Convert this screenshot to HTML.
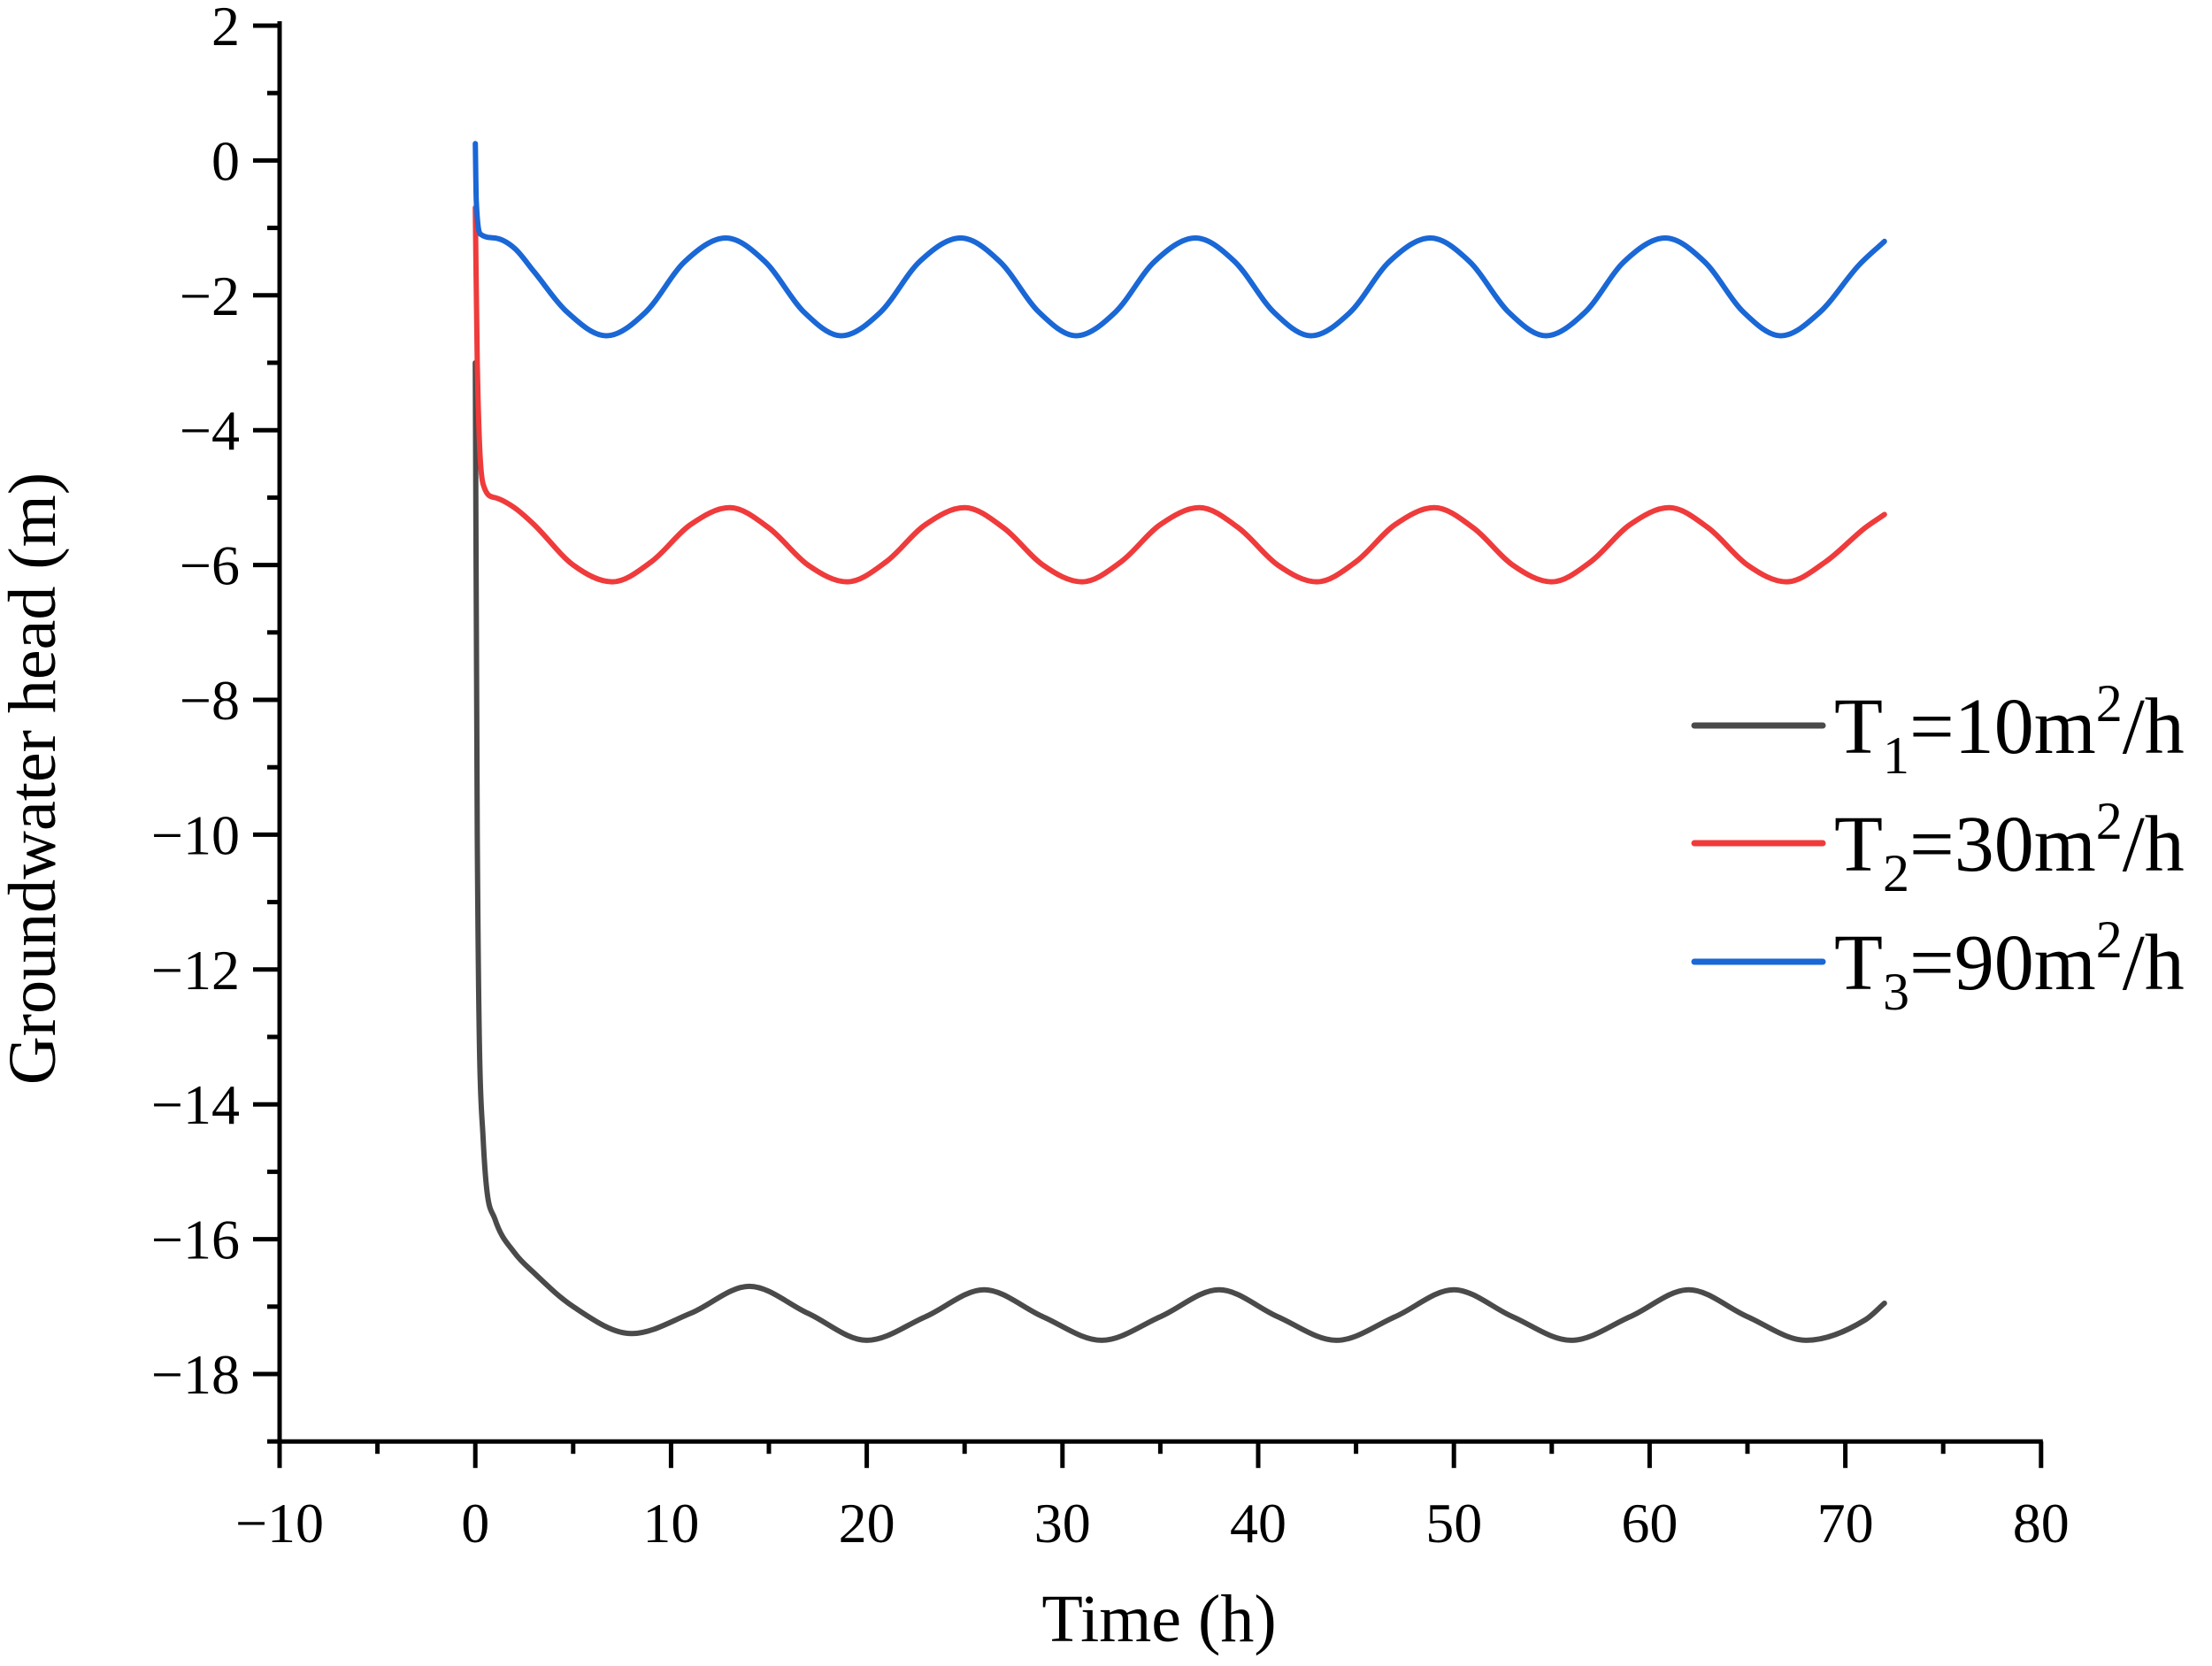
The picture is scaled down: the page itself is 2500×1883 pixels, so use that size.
<!DOCTYPE html>
<html><head><meta charset="utf-8"><style>
html,body{margin:0;padding:0;background:#fff}
svg{display:block}
text{font-family:"Liberation Serif",serif;fill:#000}
</style></head><body>
<svg id="chart" width="2500" height="1883" viewBox="0 0 2500 1883">
<g id="axes"></g>
<g id="series"></g>
<text x="1310" y="1855" font-size="76" text-anchor="middle">Time (h)</text>
<text transform="translate(62,880) rotate(-90)" font-size="76" text-anchor="middle">Groundwater head (m)</text>
<g id="legend"></g>
</svg>
<script>
const xTicks=[-10,0,10,20,30,40,50,60,70,80];
const yTicks=[2,0,-2,-4,-6,-8,-10,-12,-14,-16,-18];
const seriesNames=["T1=10m²/h","T2=30m²/h","T3=90m²/h"];
const blackT=[0,0.1,0.4,1,2,3,5,8,11,14,17,20,23,26,29,32,35,38,41,44,47,50,53,56,59,62,65,68,71,72];
const blackV=[-3,-10,-14.5,-15.7,-16.2,-16.5,-17.0,-17.4,-17.1,-16.7,-17.1,-17.5,-17.15,-16.75,-17.15,-17.5,-17.15,-16.75,-17.15,-17.5,-17.15,-16.75,-17.15,-17.5,-17.15,-16.75,-17.15,-17.5,-17.2,-16.95];
const redT=[0,0.1,0.4,1,2,3,5,7,9,11,13,15,17,19,21,23,25,27,29,31,33,35,37,39,41,43,45,47,49,51,53,55,57,59,61,63,65,67,69,71,72];
const redV=[-0.7,-3,-4.8,-5.0,-5.15,-5.4,-6.0,-6.25,-5.95,-5.4,-5.15,-5.45,-6.0,-6.25,-5.95,-5.4,-5.15,-5.45,-6.0,-6.25,-5.95,-5.4,-5.15,-5.45,-6.0,-6.25,-5.95,-5.4,-5.15,-5.45,-6.0,-6.25,-5.95,-5.4,-5.15,-5.45,-6.0,-6.25,-5.95,-5.45,-5.25];
const blueT=[0,0.05,0.3,1,2,3,4.7,6.7,8.7,10.7,12.8,14.8,16.8,18.7,20.7,22.7,24.8,26.8,28.8,30.7,32.7,34.7,36.8,38.8,40.8,42.7,44.7,46.7,48.8,50.8,52.8,54.7,56.7,58.7,60.8,62.8,64.8,66.7,68.7,70.7,72];
const blueV=[0.25,-0.6,-1.1,-1.15,-1.3,-1.65,-2.25,-2.6,-2.25,-1.5,-1.15,-1.5,-2.25,-2.6,-2.25,-1.5,-1.15,-1.5,-2.25,-2.6,-2.25,-1.5,-1.15,-1.5,-2.25,-2.6,-2.25,-1.5,-1.15,-1.5,-2.25,-2.6,-2.25,-1.5,-1.15,-1.5,-2.25,-2.6,-2.25,-1.55,-1.2];

const NS="http://www.w3.org/2000/svg";
const X0=316,XS=22.12,YTOP=29,YS=76.2;
function sx(v){return X0+(v+10)*XS;}
function sy(v){return YTOP+(2-v)*YS;}
const axes=document.getElementById('axes');
function mk(tag,attrs,parent){const e=document.createElementNS(NS,tag);for(const k in attrs)e.setAttribute(k,attrs[k]);parent.appendChild(e);return e;}
const axisBottom=sy(-19);
let a=mk('line',{x1:X0,y1:YTOP-5,x2:X0,y2:axisBottom+2,stroke:'#000','stroke-width':5},axes);


a=mk('line',{x1:X0-2,y1:axisBottom,x2:sx(80)+2,y2:axisBottom,stroke:'#000','stroke-width':5},axes);


for(let v=-10;v<=80;v+=5){
  const major=(v%10===0);
  const t=mk('line',{x1:sx(v),y1:axisBottom,x2:sx(v),y2:axisBottom+(major?30:14),stroke:'#000','stroke-width':5},axes);
  
  
}
xTicks.forEach(v=>{
  const t=mk('text',{x:sx(v),y:1743,'font-size':64,'text-anchor':'middle'},axes);
  t.textContent=(v<0?'\u2212':'')+Math.abs(v);
  
  
});
for(let v=2;v>=-19;v--){
  const major=(v%2===0);
  const t=mk('line',{x1:X0,y1:sy(v),x2:X0-(major?30:14),y2:sy(v),stroke:'#000','stroke-width':5},axes);
  
  
}
yTicks.forEach(v=>{
  const t=mk('text',{x:X0-45,y:sy(v)+22,'font-size':64,'text-anchor':'end'},axes);
  t.textContent=(v<0?'\u2212':'')+Math.abs(v);
  
  
});
function mono(xs,ys){
  const n=xs.length,d=[],m=[];
  for(let i=0;i<n-1;i++)d.push((ys[i+1]-ys[i])/(xs[i+1]-xs[i]));
  m[0]=d[0];m[n-1]=d[n-2];
  for(let i=1;i<n-1;i++){m[i]=(d[i-1]*d[i]<=0)?0:(d[i-1]+d[i])/2;}
  for(let i=0;i<n-1;i++){if(d[i]===0){m[i]=m[i+1]=0;continue;}const al=m[i]/d[i],be=m[i+1]/d[i],s=al*al+be*be;if(s>9){const t=3/Math.sqrt(s);m[i]=t*al*d[i];m[i+1]=t*be*d[i];}}
  let p='M'+sx(xs[0]).toFixed(1)+','+sy(ys[0]).toFixed(1);
  for(let i=0;i<n-1;i++){const h=xs[i+1]-xs[i];
    p+=' C'+sx(xs[i]+h/3).toFixed(1)+','+sy(ys[i]+m[i]*h/3).toFixed(1)+' '+sx(xs[i+1]-h/3).toFixed(1)+','+sy(ys[i+1]-m[i+1]*h/3).toFixed(1)+' '+sx(xs[i+1]).toFixed(1)+','+sy(ys[i+1]).toFixed(1);}
  return p;
}
const sg=document.getElementById('series');
const defs=[[blackT,blackV,'#4a4a4a','series-t1-line'],[redT,redV,'#ef3b3b','series-t2-line'],[blueT,blueV,'#1a67d6','series-t3-line']];
defs.forEach(d=>{
  const p=mk('path',{d:mono(d[0],d[1]),fill:'none',stroke:d[2],'stroke-width':6,'stroke-linejoin':'round','stroke-linecap':'round'},sg);
  
  
});
const lg=document.getElementById('legend');
const subs=['1','2','3'],vals=['10','30','90'],cols=['#4a4a4a','#ef3b3b','#1a67d6'],ly=[820,953,1087];
for(let i=0;i<3;i++){
  const g=mk('g',{},lg);
  
  
  mk('line',{x1:1915,y1:ly[i],x2:2060,y2:ly[i],stroke:cols[i],'stroke-width':7,'stroke-linecap':'round'},g);
  const t=mk('text',{x:2073,y:ly[i]+31,'font-size':90},g);
  t.innerHTML='T<tspan font-size="60" dy="23">'+subs[i]+'</tspan><tspan dy="-23">='+vals[i]+'m</tspan><tspan font-size="60" dy="-36">2</tspan><tspan dy="36">/h</tspan>';
}
</script>
</body></html>
